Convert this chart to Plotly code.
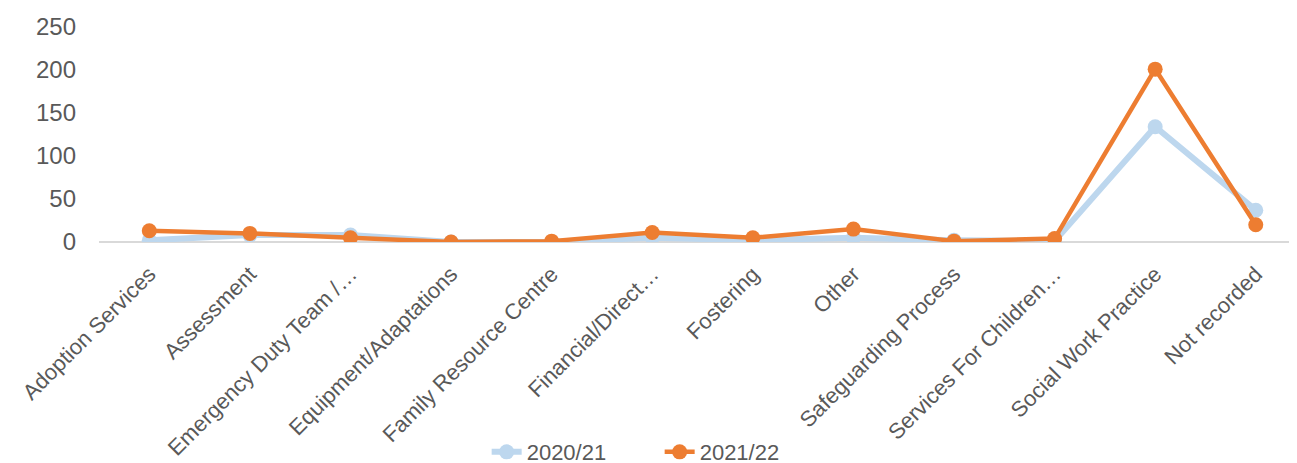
import plotly.graph_objects as go

categories = ["Adoption Services", "Assessment", "Emergency Duty Team /…",
              "Equipment/Adaptations", "Family Resource Centre", "Financial/Direct…",
              "Fostering", "Other", "Safeguarding Process", "Services For Children…",
              "Social Work Practice", "Not recorded"]
y2020 = [2, 8, 8, 0, 0, 5, 2, 5, 2, 1, 134, 37]
y2021 = [13, 10, 5, 0, 1, 11, 5, 15, 1, 4, 201, 20]

font = dict(family="Liberation Sans, Arial", size=24, color="#595959")
xfont = dict(family="Liberation Sans, Arial", size=22, color="#595959")

fig = go.Figure()
fig.add_trace(go.Scatter(x=categories, y=y2020, name="2020/21", mode="lines+markers",
                         line=dict(color="#BDD7EE", width=6),
                         marker=dict(size=15, color="#BDD7EE")))
fig.add_trace(go.Scatter(x=categories, y=y2021, name="2021/22", mode="lines+markers",
                         line=dict(color="#ED7D31", width=4.5),
                         marker=dict(size=15, color="#ED7D31")))

# the page body adds an 8px offset, so margins are shifted to compensate
fig.update_layout(
    width=1297, height=463,
    margin=dict(l=91, r=8, t=19, b=229, autoexpand=False),
    paper_bgcolor="white", plot_bgcolor="white",
    font=font,
    showlegend=True,
    legend=dict(orientation="h", x=0.468, xanchor="center", y=-0.977, yanchor="middle",
                entrywidth=128,
                font=dict(family="Liberation Sans, Arial", size=22, color="#595959")),
    xaxis=dict(type="category", range=[-0.5, 11.41], tickangle=-45,
               showgrid=False, showline=False, zeroline=False, ticks="",
               tickfont=xfont, ticklabelstandoff=14),
    yaxis=dict(range=[0, 250], dtick=50, showgrid=False, zeroline=True,
               zerolinecolor="#D9D9D9", zerolinewidth=2, showline=False,
               ticks="", tickfont=font, ticklabelstandoff=22),
)

fig.write_html("out.html")
